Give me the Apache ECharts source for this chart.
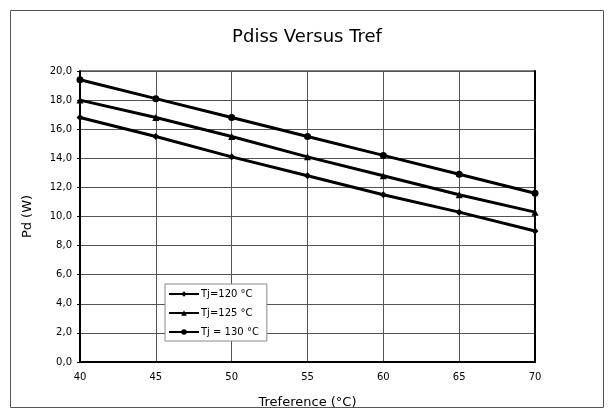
<!DOCTYPE html>
<html>
<head>
<meta charset="utf-8">
<script src="https://cdn.jsdelivr.net/npm/echarts@6/dist/echarts.min.js"></script>
<style>
html, body { margin: 0; padding: 0; background: #fff; }
#chart { width: 614px; height: 418px; }
</style>
</head>
<body>
<div id="chart"></div>
<script>
// 横坐标 Tref
var tref = [40, 45, 50, 55, 60, 65, 70]
// 三条曲线 Pd (W)
var tj120 = [16.8, 15.5, 14.1, 12.8, 11.5, 10.3, 9.0]
var tj125 = [18.0, 16.8, 15.5, 14.1, 12.8, 11.5, 10.3]
var tj130 = [19.4, 18.1, 16.8, 15.5, 14.2, 12.9, 11.6]
var names = ['Tj=120 °C', 'Tj=125 °C', 'Tj = 130 °C']

function pairs (arr) {
  return arr.map(function (v, i) { return [tref[i], v] })
}

var font = 'DejaVu Sans'
var myChart = echarts.init(document.getElementById('chart'))

function makeSeries (name, data, symbol, size) {
  return {
    name: name,
    type: 'line',
    data: pairs(data),
    symbol: symbol,
    symbolSize: size,
    lineStyle: { color: '#000', width: 3 },
    itemStyle: { color: '#000' },
    z: 3
  }
}

var option = {
  backgroundColor: '#fff',
  animation: false,
  graphic: [{
    type: 'rect',
    shape: { x: 10.5, y: 10.5, width: 593, height: 397 },
    style: { fill: 'none', stroke: '#555', lineWidth: 1 },
    z: -1
  }],
  title: {
    text: 'Pdiss Versus Tref',
    left: 'center',
    top: 23,
    textStyle: { fontFamily: font, fontSize: 18, fontWeight: 'normal', color: '#000' }
  },
  legend: {
    orient: 'vertical',
    left: 165,
    top: 284,
    data: names,
    itemWidth: 30,
    itemHeight: 7,
    itemGap: 9,
    padding: [5, 8, 4, 3],
    borderColor: '#888',
    borderWidth: 1,
    backgroundColor: '#fff',
    textStyle: { fontFamily: font, fontSize: 10, color: '#000', padding: [0, 0, 0, -3] }
  },
  grid: {
    left: 80,
    right: 79,
    top: 71,
    bottom: 56,
    show: true,
    borderColor: '#000',
    borderWidth: 1
  },
  xAxis: {
    type: 'value',
    min: 40,
    max: 70,
    interval: 5,
    name: 'Treference (°C)',
    nameLocation: 'middle',
    nameGap: 34,
    nameTextStyle: { fontFamily: font, fontSize: 13, color: '#000' },
    axisLine: { lineStyle: { color: '#000', width: 2 } },
    axisTick: { show: false },
    axisLabel: { fontFamily: font, fontSize: 10, color: '#000', margin: 10 },
    splitLine: { show: true, lineStyle: { color: '#555', width: 1 } }
  },
  yAxis: [{
    type: 'value',
    min: 0,
    max: 20,
    interval: 2,
    name: 'Pd (W)',
    nameLocation: 'middle',
    nameGap: 46,
    nameTextStyle: { fontFamily: font, fontSize: 13, color: '#000' },
    axisLine: { show: true, lineStyle: { color: '#000', width: 2 } },
    axisTick: { show: true, length: 3, lineStyle: { color: '#000' } },
    axisLabel: {
      fontFamily: font,
      fontSize: 10,
      color: '#000',
      formatter: function (v) { return v.toFixed(1).replace('.', ',') }
    },
    splitLine: { show: true, lineStyle: { color: '#555', width: 1 } }
  }, {
    // 右侧粗边框
    type: 'value',
    position: 'right',
    min: 0,
    max: 20,
    interval: 2,
    axisLine: { show: true, lineStyle: { color: '#000', width: 2 } },
    axisTick: { show: false },
    axisLabel: { show: false },
    splitLine: { show: false }
  }],
  series: [
    makeSeries(names[0], tj120, 'diamond', 7),
    makeSeries(names[1], tj125, 'triangle', 7),
    makeSeries(names[2], tj130, 'circle', 7)
  ]
}

myChart.setOption(option, true)
</script>
</body>
</html>
